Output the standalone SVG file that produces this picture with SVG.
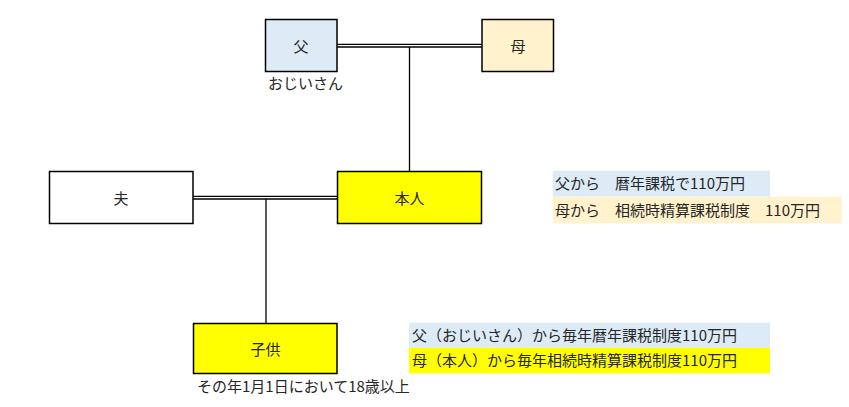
<svg xmlns="http://www.w3.org/2000/svg" width="849" height="407" viewBox="0 0 849 407">
<style>
.box{stroke:#000;stroke-width:1.5}
.lbl{font-family:"Noto Sans CJK JP","Noto Sans CJK SC",sans-serif;font-size:15px;fill:#262626}
.mid{text-anchor:middle;dominant-baseline:central}
.ln{stroke:#000;stroke-width:1.3;fill:none}
</style>
<rect width="849" height="407" fill="#fff"/>
<g id="connectors">
<line class="ln" x1="337" y1="44.3" x2="482" y2="44.3"/>
<line class="ln" x1="337" y1="47" x2="482" y2="47"/>
<line class="ln" x1="409.5" y1="47" x2="409.5" y2="171.5"/>
<line class="ln" x1="193" y1="196.3" x2="337.5" y2="196.3"/>
<line class="ln" x1="193" y1="199" x2="337.5" y2="199"/>
<line class="ln" x1="266" y1="199" x2="266" y2="323.5"/>
</g>
<g id="father">
<rect class="box" x="265.5" y="19.5" width="71.5" height="52" fill="#DDEBF7"/>
<text class="lbl mid" x="301" y="45.5">父</text>
<text class="lbl" x="268" y="89">おじいさん</text>
</g>
<g id="mother">
<rect class="box" x="482" y="19.5" width="71.5" height="52" fill="#FFF2CC"/>
<text class="lbl mid" x="518" y="45.5">母</text>
</g>
<g id="husband">
<rect class="box" x="49.5" y="171.5" width="143.5" height="52" fill="#fff"/>
<text class="lbl mid" x="121" y="197.5">夫</text>
</g>
<g id="self">
<rect class="box" x="337.5" y="171.5" width="144" height="52" fill="#FFFF00"/>
<text class="lbl mid" x="409.5" y="197.5">本人</text>
</g>
<g id="child">
<rect class="box" x="193.5" y="323.5" width="143.5" height="50" fill="#FFFF00"/>
<text class="lbl mid" x="265.5" y="348.5">子供</text>
<text class="lbl" x="197" y="392">その年1月1日において18歳以上</text>
</g>
<g id="note-top">
<rect x="552.7" y="170.7" width="217.3" height="26" fill="#DDEBF7"/>
<rect x="552.7" y="196.7" width="289" height="26.6" fill="#FFF2CC"/>
<text class="lbl" x="555" y="189">父から　暦年課税で110万円</text>
<text class="lbl" x="555" y="215.5">母から　相続時精算課税制度　110万円</text>
</g>
<g id="note-bottom">
<rect x="409" y="322.7" width="361" height="25" fill="#DDEBF7"/>
<rect x="409" y="347.7" width="361" height="25.6" fill="#FFFF00"/>
<text class="lbl" x="412" y="341">父（おじいさん）から毎年暦年課税制度110万円</text>
<text class="lbl" x="412" y="366">母（本人）から毎年相続時精算課税制度110万円</text>
</g>
</svg>
